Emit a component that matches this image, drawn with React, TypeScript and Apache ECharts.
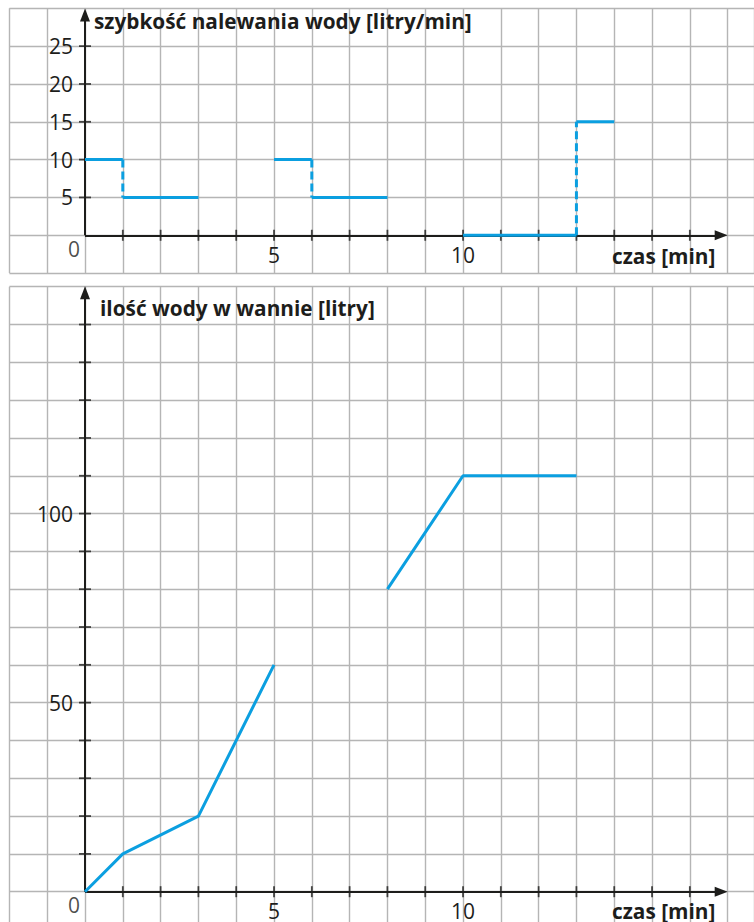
import React, { useEffect, useRef } from "react";
import * as echarts from "echarts";

// ---- data ----
// upper chart: filling rate [litry/min], piecewise constant
const rateStart = [0, 1, 5, 6, 10, 13];
const rateEnd = [1, 3, 6, 8, 13, 14];
const rateValue = [10, 5, 10, 5, 0, 15];
// dashed jumps between steps
const jumpTime = [1, 6, 13];
const jumpFrom = [10, 10, 0];
const jumpTo = [5, 5, 15];

// lower chart: amount of water [litry]
const volumeTimeA = [0, 1, 3, 5];
const volumeValueA = [0, 10, 20, 60];
const volumeTimeB = [8, 10, 13];
const volumeValueB = [80, 110, 110];

// ticks and tick labels
const timeTicks = [1, 2, 3, 4, 5, 6, 7, 8, 9, 10, 11, 12, 13, 14, 15, 16];
const timeLabels = [5, 10];
const rateTicks = [5, 10, 15, 20, 25];
const rateLabels = [5, 10, 15, 20, 25];
const volumeTicks = [10, 20, 30, 40, 50, 60, 70, 80, 90, 100, 110, 120, 130, 140, 150];
const volumeLabels = [50, 100];

const rateTitle = "szybkość nalewania wody [litry/min]";
const volumeTitle = "ilość wody w wannie [litry]";
const timeTitle = "czas [min]";

// ---- styling / layout ----
const FONT = '"Open Sans", "Noto Sans", sans-serif';
const BLUE = "#0b9fe0";
const INK = "#1d1d1b";
const GRIDC = "#b5b5b5";
const NUM_SIZE = 21;
const TITLE_SIZE = 20.8;

const X_MIN = -2;
const X_MAX = 17.7;
const X_ARROW_END = 16.83;
const RATE_MIN = -5;
const RATE_MAX = 30;
const RATE_ARROW_END = 29.1;
const VOL_MIN = -10;
const VOL_MAX = 160;
const VOL_ARROW_END = 158.4;
// pixel offsets moving the axes' labels from the grid edges to the zero lines
const X_LABEL_SHIFT = -37.8;
const Y_LABEL_SHIFT = -75.6;

function makeXAxis(gridIndex: number) {
  return {
    type: "value",
    gridIndex,
    min: X_MIN,
    max: X_MAX,
    interval: 1,
    position: "bottom",
    offset: X_LABEL_SHIFT,
    axisLine: { show: false, onZero: false },
    axisTick: { show: false },
    splitLine: { show: true, lineStyle: { color: GRIDC, width: 1.4 } },
    axisLabel: {
      show: true,
      margin: 9,
      fontSize: NUM_SIZE,
      fontFamily: FONT,
      color: INK,
      formatter: (v: number) => (timeLabels.includes(v) ? String(v) : ""),
    },
  };
}

function makeYAxis(gridIndex: number, min: number, max: number, interval: number, labels: number[]) {
  return {
    type: "value",
    gridIndex,
    min,
    max,
    interval,
    position: "left",
    offset: Y_LABEL_SHIFT,
    axisLine: { show: false, onZero: false },
    axisTick: { show: false },
    splitLine: { show: true, lineStyle: { color: GRIDC, width: 1.4 } },
    axisLabel: {
      show: true,
      margin: 12,
      fontSize: NUM_SIZE,
      fontFamily: FONT,
      color: INK,
      formatter: (v: number) => (labels.includes(v) ? String(v) : ""),
    },
  };
}

function axesSeries(g: number, yTicks: number[], yArrowEnd: number) {
  return [
    {
      type: "scatter",
      xAxisIndex: g,
      yAxisIndex: g,
      silent: true,
      z: 4,
      symbol: "rect",
      symbolSize: [1.8, 11],
      itemStyle: { color: INK },
      data: timeTicks.map((t) => [t, 0]),
      markLine: {
        silent: true,
        symbol: ["none", "triangle"],
        symbolSize: [10, 13],
        label: { show: false },
        lineStyle: { color: INK, width: 2, type: "solid" },
        emphasis: { disabled: true },
        data: [
          [{ coord: [0, 0] }, { coord: [X_ARROW_END, 0] }],
          [{ coord: [0, 0] }, { coord: [0, yArrowEnd] }],
        ],
      },
    },
    {
      type: "scatter",
      xAxisIndex: g,
      yAxisIndex: g,
      silent: true,
      z: 4,
      symbol: "rect",
      symbolSize: [12, 1.8],
      itemStyle: { color: INK },
      data: yTicks.map((v) => [0, v]),
    },
    {
      type: "scatter",
      xAxisIndex: g,
      yAxisIndex: g,
      silent: true,
      z: 4,
      symbolSize: 0.1,
      itemStyle: { color: "rgba(0,0,0,0)" },
      label: {
        show: true,
        formatter: "0",
        position: [-17, 3],
        fontSize: NUM_SIZE,
        fontFamily: FONT,
        color: INK,
      },
      data: [[0, 0]],
    },
  ];
}

function titleItem(text: string, left: number, top: number) {
  return {
    text,
    left,
    top,
    padding: 0,
    textStyle: { fontFamily: FONT, fontWeight: "bold", fontSize: TITLE_SIZE, color: INK },
  };
}

export default function App() {
  const ref = useRef<HTMLDivElement>(null);
  useEffect(() => {
    document.body.style.margin = "0";
    const chart = echarts.init(ref.current!, null, { renderer: "svg" });

    const rateSeries = rateStart.map((s, i) => ({
      type: "line",
      xAxisIndex: 0,
      yAxisIndex: 0,
      silent: true,
      z: 6,
      symbol: "none",
      lineStyle: { color: BLUE, width: 3 },
      data: [
        [s, rateValue[i]],
        [rateEnd[i], rateValue[i]],
      ],
    }));
    const jumpSeries = jumpTime.map((t, i) => ({
      type: "line",
      xAxisIndex: 0,
      yAxisIndex: 0,
      silent: true,
      z: 6,
      symbol: "none",
      lineStyle: { color: BLUE, width: 3, type: [8, 4] },
      data: [
        [t, jumpFrom[i]],
        [t, jumpTo[i]],
      ],
    }));
    const volumeSeries = [
      volumeTimeA.map((t, i) => [t, volumeValueA[i]]),
      volumeTimeB.map((t, i) => [t, volumeValueB[i]]),
    ].map((d) => ({
      type: "line",
      xAxisIndex: 1,
      yAxisIndex: 1,
      silent: true,
      z: 6,
      symbol: "none",
      lineStyle: { color: BLUE, width: 3 },
      data: d,
    }));

    chart.setOption({
      animation: false,
      backgroundColor: "#ffffff",
      title: [
        titleItem(rateTitle, 94, 10),
        titleItem(timeTitle, 612, 245),
        titleItem(volumeTitle, 100, 297),
        titleItem(timeTitle, 612, 900),
      ],
      grid: [
        { left: 9.4, top: 8.3, width: 744.7, height: 264.8, containLabel: false, outerBoundsMode: "none" },
        { left: 9.4, top: 286.7, width: 744.7, height: 642.8, containLabel: false, outerBoundsMode: "none" },
      ],
      xAxis: [makeXAxis(0), makeXAxis(1)],
      yAxis: [
        makeYAxis(0, RATE_MIN, RATE_MAX, 5, rateLabels),
        makeYAxis(1, VOL_MIN, VOL_MAX, 10, volumeLabels),
      ],
      series: [
        ...axesSeries(0, rateTicks, RATE_ARROW_END),
        ...axesSeries(1, volumeTicks, VOL_ARROW_END),
        ...rateSeries,
        ...jumpSeries,
        ...volumeSeries,
      ],
    });
    return () => chart.dispose();
  }, []);
  return <div ref={ref} style={{ width: 754, height: 922 }} />;
}
